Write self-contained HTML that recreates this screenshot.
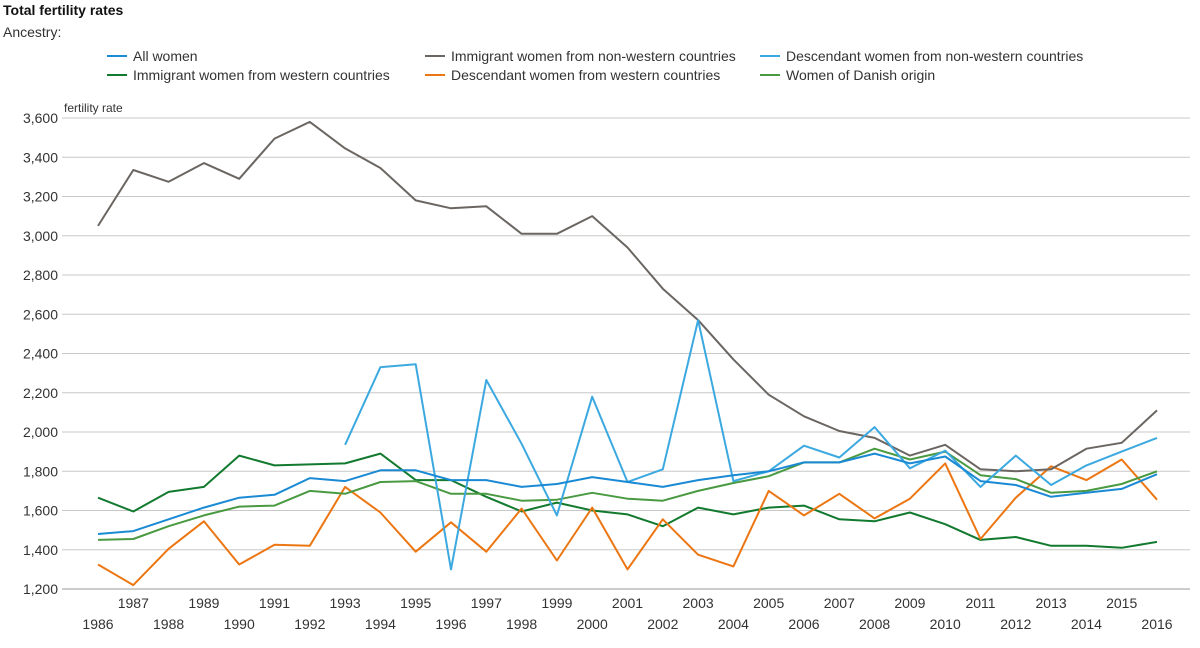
<!DOCTYPE html>
<html><head><meta charset="utf-8"><style>
body{margin:0;background:#fff;font-family:"Liberation Sans",Arial,sans-serif;}
svg text{font-family:"Liberation Sans",Arial,sans-serif;}
</style></head><body>
<svg id="c" width="1200" height="643" xmlns="http://www.w3.org/2000/svg">
<text x="3" y="15" font-size="14" font-weight="bold" fill="#111">Total fertility rates</text>
<text x="3" y="37" font-size="14" fill="#333">Ancestry:</text>
<text x="64" y="112" font-size="12" fill="#333">fertility rate</text>
<g id="grid"></g><g id="lines"></g><g id="legend"></g>
</svg>
<script>
const years=[1986,1987,1988,1989,1990,1991,1992,1993,1994,1995,1996,1997,1998,1999,2000,2001,2002,2003,2004,2005,2006,2007,2008,2009,2010,2011,2012,2013,2014,2015,2016];
const yTicks=[1200,1400,1600,1800,2000,2200,2400,2600,2800,3000,3200,3400,3600];
const seriesNames=["All women","Immigrant women from non-western countries","Descendant women from non-western countries","Immigrant women from western countries","Descendant women from western countries","Women of Danish origin"];
const allWomen=[1480,1495,1555,1615,1665,1680,1765,1750,1805,1805,1755,1755,1720,1735,1770,1745,1720,1755,1780,1800,1845,1845,1890,1840,1875,1750,1730,1670,1690,1710,1785];
const immNonWestern=[3050,3335,3275,3370,3290,3495,3580,3445,3345,3180,3140,3150,3010,3010,3100,2940,2730,2570,2370,2190,2080,2005,1970,1880,1935,1810,1800,1810,1915,1945,2110];
const descNonWestern=[null,null,null,null,null,null,null,1935,2330,2345,1300,2265,1940,1575,2180,1745,1810,2570,1750,1800,1930,1870,2025,1815,1905,1720,1880,1730,1830,1900,1970];
const immWestern=[1665,1595,1695,1720,1880,1830,1835,1840,1890,1755,1755,1670,1595,1640,1600,1580,1520,1615,1580,1615,1625,1555,1545,1590,1530,1450,1465,1420,1420,1410,1440];
const descWestern=[1325,1220,1405,1545,1325,1425,1420,1720,1590,1390,1540,1390,1610,1345,1615,1300,1555,1375,1315,1700,1575,1685,1560,1660,1840,1455,1665,1825,1755,1860,1655];
const danish=[1450,1455,1520,1575,1620,1625,1700,1685,1745,1750,1685,1685,1650,1655,1690,1660,1650,1700,1740,1775,1845,1845,1915,1860,1900,1780,1760,1690,1700,1735,1800];
const NS="http://www.w3.org/2000/svg";
function x(i){return 98+i*(1157-98)/(years.length-1);}
function y(v){return 589-(v-1200)*(589-118)/2400;}
function mk(t,a,p){const e=document.createElementNS(NS,t);for(const k in a)e.setAttribute(k,a[k]);p.appendChild(e);return e;}
const grid=document.getElementById('grid');
yTicks.forEach(v=>{
 const l=mk('line',{x1:62,x2:1190,y1:y(v),y2:y(v),stroke:v===1200?'#999':'#c8c8c8','stroke-width':1},grid);
 
 
 const t=mk('text',{x:58,y:y(v)+5,'text-anchor':'end','font-size':14,fill:'#333'},grid);
 t.textContent=v.toLocaleString('en-US');
 
 
});
years.forEach((yr,i)=>{
 const t=mk('text',{x:x(i),y:i%2?608:629,'text-anchor':'middle','font-size':14,fill:'#333'},grid);
 t.textContent=yr;
 
 
});
const data=[allWomen,immNonWestern,descNonWestern,immWestern,descWestern,danish];
const colors=["#1a8ad4","#6b6661","#3ba9e0","#127a2f","#ec7612","#4a9a42"];
const order=[3,4,5,1,2,0];
const lines=document.getElementById('lines');
order.forEach(s=>{
 let d='';data[s].forEach((v,i)=>{if(v==null)return;d+=(d?'L':'M')+x(i).toFixed(1)+','+y(v).toFixed(1);});
 const p=mk('path',{d:d,fill:'none',stroke:colors[s],'stroke-width':2,'stroke-linejoin':'round'},lines);
 
 
});
const lg=document.getElementById('legend');
const lpos=[[107,61],[425,61],[760,61],[107,80],[425,80],[760,80]];
seriesNames.forEach((n,s)=>{
 const g=mk('g',{},lg);
 
 
 mk('line',{x1:lpos[s][0],x2:lpos[s][0]+20,y1:lpos[s][1]-5,y2:lpos[s][1]-5,stroke:colors[s],'stroke-width':2},g);
 const t=mk('text',{x:lpos[s][0]+26,y:lpos[s][1],'font-size':14,fill:'#333'},g);
 t.textContent=n;
});
</script>
</body></html>
